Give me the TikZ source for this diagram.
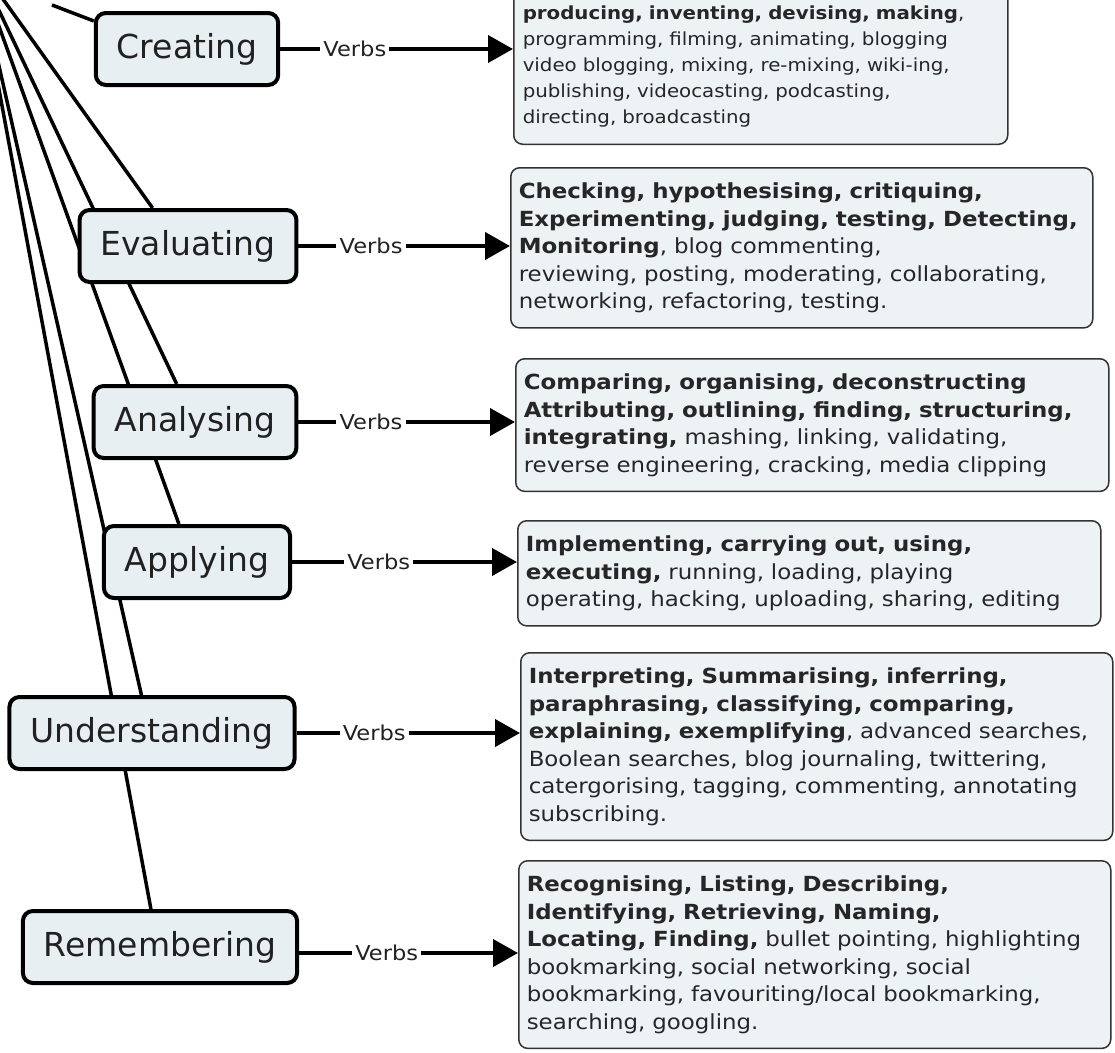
\documentclass[tikz,border=0pt]{standalone}
\usepackage{fontspec}
\setmainfont{DejaVu Sans}
\newfontfamily\verbfont[FakeStretch=1.1]{DejaVu Sans}
\usepackage{xcolor}
\usepackage{tikz}
\usetikzlibrary{positioning, calc, arrows.meta, backgrounds}

\definecolor{levelfill}{RGB}{232,239,243}
\definecolor{verbfill}{RGB}{237,242,245}
\definecolor{verbtext}{RGB}{38,38,38}

\begin{document}
\begin{tikzpicture}[x=1pt, y=-1pt, node distance=40pt]
        % Define styles
        \tikzstyle{level} = [rectangle, rounded corners=10pt, minimum height=72pt, inner xsep=21pt, text centered, draw=black, line width=4pt, fill=levelfill, text=black!87, font=\fontsize{33}{38}\selectfont]
        \tikzstyle{verblist} = [rectangle, rounded corners=9pt, inner xsep=8pt, inner ysep=15pt, align=left, draw=black!80, line width=1.5pt, fill=verbfill, text=verbtext, font=\verbfont\fontsize{20.8}{27.5}\selectfont]
        \tikzstyle{verbs} = [inner sep=3pt, text=black!87, font=\verbfont\fontsize{20.5}{24}\selectfont]
        \tikzstyle{link} = [line width=4pt]
        \tikzstyle{arrow} = [line width=4pt, -{Triangle[length=25pt, width=27pt]}]
        \tikzstyle{branch} = [line width=3.5pt]

        \useasboundingbox (0,0) rectangle (1115,1052);
        \clip (0,0) rectangle (1115,1052);

        % Creating
        \node (creating) [level] at (187,49) {Creating};
        \node (v1) [verbs, right=40pt of creating] {Verbs};
        \node (creatingverbs) [verblist, anchor=south west, inner xsep=9pt, inner ysep=17pt, text width=476pt, font=\verbfont\fontsize{18}{26}\selectfont] at (513,145) {\textbf{producing, inventing, devising, making},\\ programming, filming, animating, blogging\\ video blogging, mixing, re-mixing, wiki-ing,\\ publishing, videocasting, podcasting,\\ directing, broadcasting};

        % Evaluating
        \node (evaluating) [level] at (188,246) {Evaluating};
        \node (v2) [verbs, right=38pt of evaluating] {Verbs};
        \node (evaluatingverbs) [verblist, anchor=north west, text width=566pt] at (510,167) {\textbf{Checking, hypothesising, critiquing,}\\ \textbf{Experimenting, judging, testing, Detecting,}\\ \textbf{Monitoring}, blog commenting,\\ reviewing, posting, moderating, collaborating,\\ networking, refactoring, testing.};

        % Analysing
        \node (analysing) [level] at (195,422) {Analysing};
        \node (v3) [verbs, right=38pt of analysing] {Verbs};
        \node (analysingverbs) [verblist, anchor=north west, text width=577pt] at (515,358) {\textbf{Comparing, organising, deconstructing}\\ \textbf{Attributing, outlining, finding, structuring,}\\ \textbf{integrating,} mashing, linking, validating,\\ reverse engineering, cracking, media clipping};

        % Applying
        \node (applying) [level] at (197,562) {Applying};
        \node (v4) [verbs, right=52pt of applying] {Verbs};
        \node (applyingverbs) [verblist, anchor=north west, text width=567pt] at (517,520) {\textbf{Implementing, carrying out, using,}\\ \textbf{executing,} running, loading, playing\\ operating, hacking, uploading, sharing, editing};

        % Understanding
        \node (understanding) [level] at (152,733) {Understanding};
        \node (v5) [verbs, right=43pt of understanding] {Verbs};
        \node (understandingverbs) [verblist, anchor=north west, text width=576pt] at (520,652) {\textbf{Interpreting, Summarising, inferring,}\\ \textbf{paraphrasing, classifying, comparing,}\\ \textbf{explaining, exemplifying}, advanced searches,\\ Boolean searches, blog journaling, twittering,\\ catergorising, tagging, commenting, annotating\\ subscribing.};

        % Remembering
        \node (remembering) [level] at (160,947) {Remembering};
        \node (v6) [verbs, right=53pt of remembering, yshift=-6pt] {Verbs};
        \node (rememberingverbs) [verblist, anchor=north west, text width=576pt] at (518,860) {\textbf{Recognising, Listing, Describing,}\\ \textbf{Identifying, Retrieving, Naming,}\\ \textbf{Locating, Finding,} bullet pointing, highlighting\\ bookmarking, social networking, social\\ bookmarking, favouriting/local bookmarking,\\ searching, googling.};

        % Links and arrows
        \foreach \lvl/\v in {creating/v1, evaluating/v2, analysing/v3, applying/v4, understanding/v5, remembering/v6} {
            \draw [link] (\v -| \lvl.east) -- (\v);
            \draw [arrow] (\v) -- (\v -| \lvl verbs.west);
        }

        % Branches, behind the boxes
        \begin{scope}[on background layer]
            \clip (0,0) rectangle (1115,1052);
            \coordinate (root) at (-25,-40);
            \coordinate (top) at (52,5);
            \draw [branch] (top) -- ([yshift=-10pt]creating.north west);
            \draw [branch] (root) -- ($(evaluating.north west)+(75,0)$);
            \draw [branch] (root) -- ($(analysing.north west)+(85,0)$);
            \draw [branch] (root) -- ($(applying.north west)+(77,0)$);
            \draw [branch] (root) -- ($(understanding.north west)+(134,0)$);
            \draw [branch] (root) -- ($(remembering.north west)+(130,0)$);
        \end{scope}
\end{tikzpicture}
\end{document}
